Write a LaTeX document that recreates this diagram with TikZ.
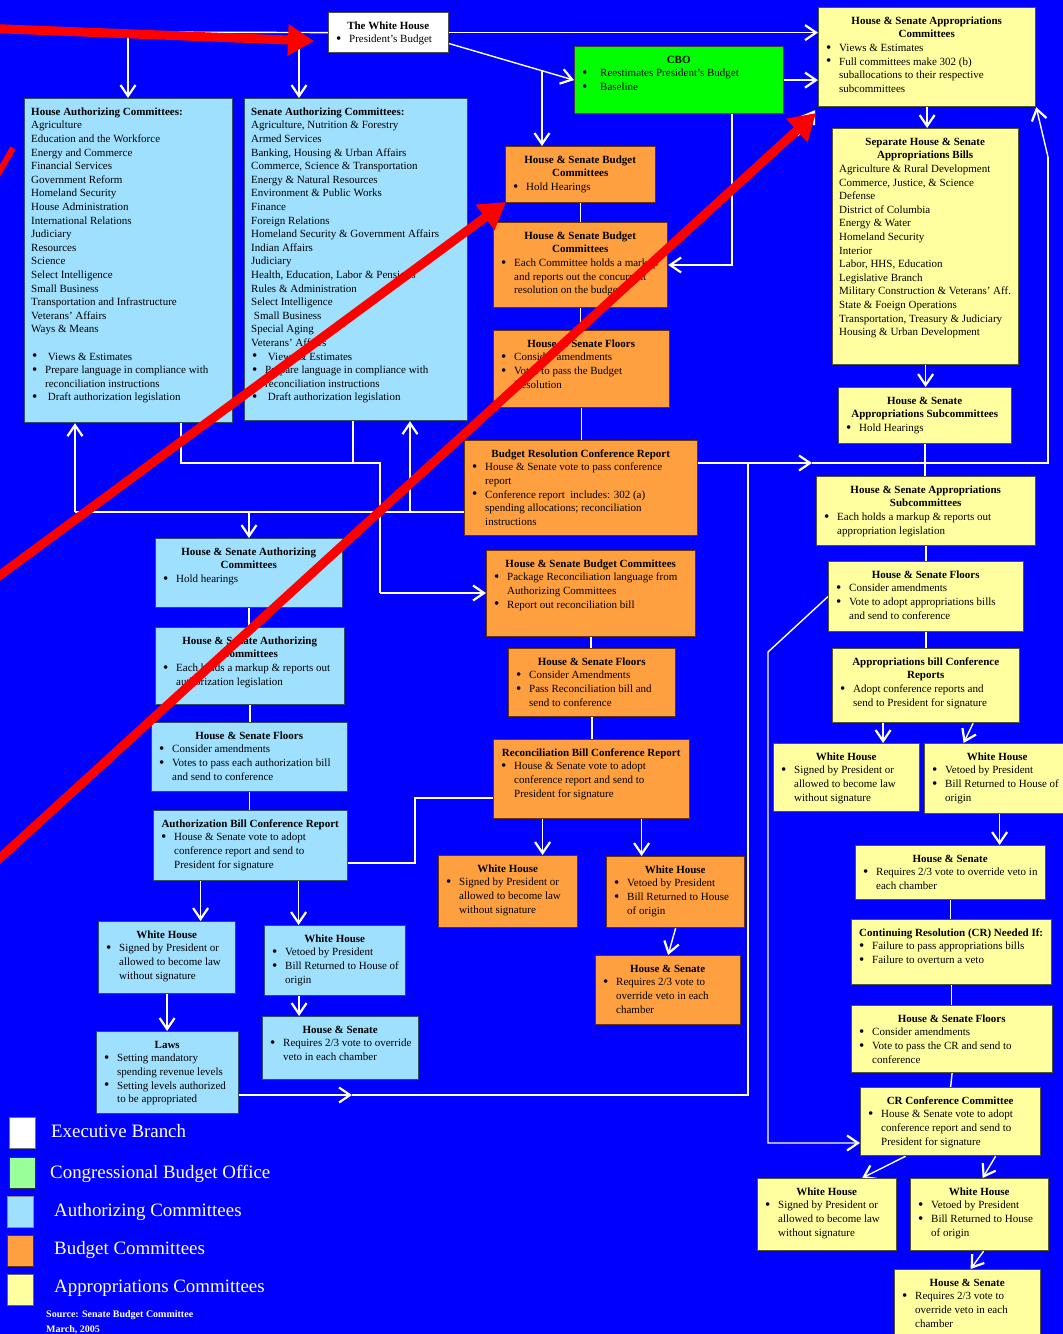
\documentclass[tikz,border=0pt]{standalone}
\usepackage{fontspec}
\setmainfont{Liberation Serif}
\usetikzlibrary{arrows.meta}
\pgfdeclarelayer{back}
\pgfdeclarelayer{lines}
\pgfsetlayers{back,lines,main}
\definecolor{bgblue}{HTML}{0000FF}
\definecolor{authc}{HTML}{A0E0FF}
\definecolor{budc}{HTML}{FFA040}
\definecolor{appc}{HTML}{FFFFA0}
\definecolor{cboc}{HTML}{00FF00}
\definecolor{leggreen}{HTML}{99FF99}
\definecolor{authb}{HTML}{2F4F5F}
\definecolor{budb}{HTML}{6B3300}
\definecolor{appb}{HTML}{55552A}

\newcommand\bul{\raisebox{-0.6pt}{\fontsize{15}{13.6}\selectfont\textbullet}}
\newcommand\ttl[1]{\par\noindent\makebox[\linewidth]{\bfseries\begin{tabular}[t]{@{}c@{}}#1\end{tabular}}\par}
\newcommand\itm[1]{\par\noindent\hbox to 14pt{\hskip1pt\bul\hss}\begin{tabular}[t]{@{}l@{}}#1\end{tabular}\par}
\newcommand\lst[1]{\par\noindent\begin{tabular}[t]{@{}l@{}}#1\end{tabular}\par}
\newcommand\bx[7]{%
  \node[#6, anchor=north west, minimum width=#4pt-#2pt, minimum height=#5pt-#3pt] (#1) at (#2,#3) {};
  \node[txt, anchor=north west] (#1t) at ([shift={(7,7.5)}]#1.north west) {\parbox[t]{\dimexpr#4pt-#2pt-14pt\relax}{\lineskip=0pt #7}};
}

\tikzset{
  txt/.style={inner sep=0pt, font=\fontsize{11}{13.6}\selectfont, text=black},
  wbox/.style={draw=black!70, line width=1.2pt, fill=white, inner sep=0pt},
  gbox/.style={draw=black!75, line width=1.2pt, fill=cboc, inner sep=0pt},
  abox/.style={draw=authb, line width=1.2pt, fill=authc, inner sep=0pt},
  bbox/.style={draw=budb, line width=1.2pt, fill=budc, inner sep=0pt},
  ybox/.style={draw=appb, line width=1.2pt, fill=appc, inner sep=0pt},
  wl/.style={draw=white, line width=1.4pt},
  wa/.style={wl, -{Straight Barb[length=11pt,width=15pt,line width=2.2pt]}},
  ra/.style={draw=red, line width=9pt, -{Triangle[length=26pt,width=30pt]}},
  leg/.style={anchor=north west, minimum width=26pt, minimum height=31pt, inner sep=0pt, line width=1.2pt},
  legt/.style={anchor=base west, inner sep=0pt, text=white, font=\fontsize{18.9}{22}\selectfont},
  src/.style={anchor=base west, inner sep=0pt, text=white, font=\bfseries\fontsize{10}{12}\selectfont},
}

\begin{document}
\begin{tikzpicture}[x=1pt,y=-1pt]
\useasboundingbox (0,0) rectangle (1063,1334);
\begin{pgfonlayer}{back}
\fill[bgblue] (0,0) rectangle (1063,1334);
\end{pgfonlayer}

% ---------- top ----------
\bx{WH}{328}{12}{448}{52}{wbox}{\ttl{The White House}\itm{President's Budget}}
\bx{CBO}{574}{46}{783}{113}{gbox}{\ttl{CBO}\itm{\hspace{5pt}Reestimates President's Budget}\itm{\hspace{5pt}Baseline}}
\bx{AP}{818}{7}{1035}{106}{ybox}{\ttl{House \& Senate Appropriations\\Committees}\itm{Views \& Estimates}\itm{Full committees make 302 (b)\\suballocations to their respective\\subcommittees}}

% ---------- authorizing lists ----------
\bx{HA}{24}{98}{232}{422}{abox}{\lst{\bfseries House Authorizing Committees:}\lst{Agriculture\\Education and the Workforce\\Energy and Commerce\\Financial Services\\Government Reform\\Homeland Security\\House Administration\\International Relations\\Judiciary\\Resources\\Science\\Select Intelligence\\Small Business\\Transportation and Infrastructure\\Veterans' Affairs\\Ways \& Means}\lst{~}\itm{\ Views \& Estimates}\itm{Prepare language in compliance with\\reconciliation instructions}\itm{\ Draft authorization legislation}}
\bx{SA}{244}{98}{467}{420}{abox}{\lst{\bfseries Senate Authorizing Committees:}\lst{Agriculture, Nutrition \& Forestry\\Armed Services\\Banking, Housing \& Urban Affairs\\Commerce, Science \& Transportation\\Energy \& Natural Resources\\Environment \& Public Works\\Finance\\Foreign Relations\\Homeland Security \& Government Affairs\\Indian Affairs\\Judiciary\\Health, Education, Labor \& Pensions\\Rules \& Administration\\Select Intelligence\\\ Small Business\\Special Aging\\Veterans' Affairs}\itm{\ Views \& Estimates}\itm{Prepare language in compliance with\\reconciliation instructions}\itm{\ Draft authorization legislation}}

% ---------- appropriations column ----------
\bx{Y2}{832}{128}{1018}{364}{ybox}{\ttl{Separate House \& Senate\\Appropriations Bills}\lst{Agriculture \& Rural Development\\Commerce, Justice, \& Science\\Defense\\District of Columbia\\Energy \& Water\\Homeland Security\\Interior\\Labor, HHS, Education\\Legislative Branch\\Military Construction \& Veterans' Aff.\\State \& Foeign Operations\\Transportation, Treasury \& Judiciary\\Housing \& Urban Development}}
\bx{Y3}{838}{387}{1011}{443}{ybox}{\ttl{House \& Senate\\Appropriations Subcommittees}\itm{Hold Hearings}}
\bx{Y4}{816}{476}{1035}{545}{ybox}{\ttl{House \& Senate Appropriations\\Subcommittees}\itm{Each holds a markup \& reports out\\appropriation legislation}}
\bx{Y5}{828}{561}{1023}{631}{ybox}{\ttl{House \& Senate Floors}\itm{Consider amendments}\itm{Vote to adopt appropriations bills\\and send to conference}}
\bx{Y6}{832}{648}{1019}{722}{ybox}{\ttl{Appropriations bill Conference\\Reports}\itm{Adopt conference reports and\\send to President for signature}}
\bx{Y7}{773}{743}{919}{811}{ybox}{\ttl{White House}\itm{Signed by President or\\allowed to become law\\without signature}}
\bx{Y8}{924}{743}{1070}{813}{ybox}{\ttl{White House}\itm{Vetoed by President}\itm{Bill Returned to House of\\origin}}
\bx{Y9}{855}{845}{1045}{899}{ybox}{\ttl{House \& Senate}\itm{Requires 2/3 vote to override veto in\\each chamber}}
\bx{Y10}{851}{919}{1051}{984}{ybox}{\ttl{Continuing Resolution (CR) Needed If:}\itm{Failure to pass appropriations bills}\itm{Failure to overturn a veto}}
\bx{Y11}{851}{1005}{1052}{1072}{ybox}{\ttl{House \& Senate Floors}\itm{Consider amendments}\itm{Vote to pass the CR and send to\\conference}}
\bx{Y12}{860}{1087}{1040}{1155}{ybox}{\ttl{CR Conference Committee}\itm{House \& Senate vote to adopt\\conference report and send to\\President for signature}}
\bx{Y13}{757}{1178}{896}{1250}{ybox}{\ttl{White House}\itm{Signed by President or\\allowed to become law\\without signature}}
\bx{Y14}{910}{1178}{1048}{1250}{ybox}{\ttl{White House}\itm{Vetoed by President}\itm{Bill Returned to House\\of origin}}
\bx{Y15}{894}{1269}{1040}{1345}{ybox}{\ttl{House \& Senate}\itm{Requires 2/3 vote to\\override veto in each\\chamber}}

% ---------- budget column ----------
\bx{B1}{505}{146}{655}{202}{bbox}{\ttl{House \& Senate Budget\\Committees}\itm{Hold Hearings}}
\bx{B2}{493}{222}{667}{307}{bbox}{\ttl{House \& Senate Budget\\Committees}\itm{Each Committee holds a markup\\and reports out the concurrent\\resolution on the budget}}
\bx{B3}{493}{330}{669}{407}{bbox}{\ttl{House \& Senate Floors}\itm{Consider amendments}\itm{Votes to pass the Budget\\Resolution}}
\bx{B4}{464}{440}{697}{535}{bbox}{\ttl{Budget Resolution Conference Report}\itm{House \& Senate vote to pass conference\\report}\itm{Conference report\ \ includes: 302 (a)\\spending allocations; reconciliation\\instructions}}
\bx{B5}{486}{550}{695}{636}{bbox}{\ttl{House \& Senate Budget Committees}\itm{Package Reconciliation language from\\Authorizing Committees}\itm{Report out reconciliation bill}}
\bx{B6}{508}{648}{675}{716}{bbox}{\ttl{House \& Senate Floors}\itm{Consider Amendments}\itm{Pass Reconciliation bill and\\send to conference}}
\bx{B7}{493}{739}{689}{818}{bbox}{\ttl{Reconciliation Bill Conference Report}\itm{House \& Senate vote to adopt\\conference report and send to\\President for signature}}
\bx{B8}{438}{855}{577}{927}{bbox}{\ttl{White House}\itm{Signed by President or\\allowed to become law\\without signature}}
\bx{B9}{606}{856}{744}{927}{bbox}{\ttl{White House}\itm{Vetoed by President}\itm{Bill Returned to House\\of origin}}
\bx{B10}{595}{955}{740}{1024}{bbox}{\ttl{House \& Senate}\itm{Requires 2/3 vote to\\override veto in each\\chamber}}

% ---------- authorizing column ----------
\bx{A1}{155}{538}{342}{607}{abox}{\ttl{House \& Senate Authorizing\\Committees}\itm{Hold hearings}}
\bx{A2}{155}{627}{344}{704}{abox}{\ttl{House \& Senate Authorizing\\Committees}\itm{Each holds a markup \& reports out\\authorization legislation}}
\bx{A3}{151}{722}{347}{791}{abox}{\ttl{House \& Senate Floors}\itm{Consider amendments}\itm{Votes to pass each authorization bill\\and send to conference}}
\bx{A4}{153}{810}{347}{880}{abox}{\ttl{Authorization Bill Conference Report}\itm{House \& Senate vote to adopt\\conference report and send to\\President for signature}}
\bx{A5}{98}{921}{235}{993}{abox}{\ttl{White House}\itm{Signed by President or\\allowed to become law\\without signature}}
\bx{A6}{264}{925}{405}{995}{abox}{\ttl{White House}\itm{Vetoed by President}\itm{Bill Returned to House of\\origin}}
\bx{A7}{262}{1016}{418}{1079}{abox}{\ttl{House \& Senate}\itm{Requires 2/3 vote to override\\veto in each chamber}}
\bx{A8}{96}{1031}{238}{1113}{abox}{\ttl{Laws}\itm{Setting mandatory\\spending revenue levels}\itm{Setting levels authorized\\to be appropriated}}

% ---------- legend ----------
\node[leg, fill=white, draw=black!55] (L1) at (9,1117) {};
\node[leg, fill=leggreen, draw=black!80] (L2) at (9,1157) {};
\node[leg, fill=authc, draw=black!45] (L3) at (7,1196) {};
\node[leg, fill=budc, draw=budb] (L4) at (7,1235) {};
\node[leg, fill=appc, draw=black!60] (L5) at (7,1274) {};
\node[legt] (T1) at (51,1137) {Executive Branch};
\node[legt] (T2) at (50,1178) {Congressional Budget Office};
\node[legt] (T3) at (54,1216) {Authorizing Committees};
\node[legt] (T4) at (54,1254) {Budget Committees};
\node[legt] (T5) at (54,1292) {Appropriations Committees};
\node[src] (S1) at (46,1317) {Source: Senate Budget Committee};
\node[src] (S2) at (46,1332) {March, 2005};

% ---------- connectors ----------
\begin{pgfonlayer}{lines}
\coordinate (tA) at (128,32);
\coordinate (tB) at (299,32);
\draw[wl] (WH.west) -- (tA);
\draw[wa] (tA) -- (tA |- HA.north);
\draw[wa] (tB) -- (tB |- SA.north);
\draw[wa] (WH.east) -- (WH.east -| AP.west);
\coordinate (c1) at (542,70.2);
\draw[wa] ([yshift=-11pt]WH.east) -- (CBO.west);
\draw[wa] (c1) -- (c1 |- B1.north);
\draw[wa] (CBO.east) -- (CBO.east -| AP.west);
\coordinate (c2) at (732,265);
\draw[wa] (CBO.south -| c2) -- (c2) -- (c2 -| B2.east);
% appropriations column
\draw[wa] (AP.south) -- (AP.south |- Y2.north);
\draw[wa] (Y2.south) -- (Y2.south |- Y3.north);
\draw[wl] (Y3.south) -- (Y3.south |- Y4.north);
\draw[wl] (Y4.south) -- (Y4.south |- Y5.north);
\draw[wl] (Y5.south) -- (Y5.south |- Y6.north);
\coordinate (y6a) at ([xshift=-43pt]Y6.south);
\draw[wa] (y6a) -- (y6a |- Y7.north);
\draw[wa] ([xshift=47pt]Y6.south) -- ([xshift=-34pt]Y8.north);
\coordinate (y8a) at ([xshift=2pt]Y8.south);
\draw[wa] (y8a) -- (y8a |- Y9.north);
\draw[wl] (Y9.south) -- (Y9.south |- Y10.north);
\draw[wl] (Y10.south) -- (Y10.south |- Y11.north);
\draw[wl] (Y11.south) -- (Y12.north);
\draw[wa] ([xshift=-45pt]Y12.south) -- ([xshift=35pt]Y13.north);
\draw[wa] ([xshift=45pt]Y12.south) -- ([xshift=3pt]Y14.north);
\draw[wa] ([xshift=4pt]Y14.south) -- ([xshift=3pt]Y15.north);
\coordinate (l1) at (768,652);
\coordinate (l2) at (768,1143);
\draw[wa] (Y5.west) -- (l1) -- (l2) -- (l2 -| Y12.west);
% budget resolution to appropriations
\coordinate (r0) at (812,463);
\coordinate (r1) at (1048,463);
\coordinate (r2) at (1048,157);
\draw[wa] (B4.east |- r0) -- (r0);
\draw[wl] (r0) -- (r1) -- (r2);
\draw[wa] (r2) -- (AP.south east);
\coordinate (q0) at (798,136);
\draw[wa] (q0) -- ([shift={(-3,3)}]AP.south west);
% laws
\coordinate (m0) at (352,1095);
\coordinate (m1) at (748,1095);
\coordinate (m2) at (748,463);
\draw[wa] (A8.east |- m0) -- (m0);
\draw[wl] (m0) -- (m1) -- (m2);
% reconciliation instructions loop
\coordinate (p0) at (75,512);
\coordinate (p1) at (410,512);
\coordinate (p2) at (249,512);
\draw[wl] (B4.west |- p0) -- (p0);
\draw[wa] (p0) -- (p0 |- HA.south);
\draw[wa] (p1) -- (p1 |- SA.south);
\draw[wa] (p2) -- (p2 |- A1.north);
% authorizing committees to budget committees
\coordinate (s0) at (181,463);
\coordinate (s1) at (353,463);
\coordinate (s2) at (380,463);
\coordinate (s3) at (380,593);
\draw[wl] (s0 |- HA.south) -- (s0) -- (s2) -- (s3);
\draw[wl] (s1 |- SA.south) -- (s1);
\draw[wa] (s3) -- (s3 -| B5.west);
% authorizing column
\draw[wl] (A1.south) -- (A1.south |- A2.north);
\draw[wl] (A2.south) -- (A2.south |- A3.north);
\draw[wl] (A3.south) -- (A3.south |- A4.north);
\coordinate (u1) at (415,863);
\coordinate (u2) at (415,798);
\draw[wl] (A4.east |- u1) -- (u1) -- (u2) -- (u2 -| B7.west);
\coordinate (a4l) at ([xshift=-50pt]A4.south);
\coordinate (a4r) at ([xshift=48pt]A4.south);
\draw[wa] (a4l) -- (a4l |- A5.north);
\draw[wa] (a4r) -- (a4r |- A6.north);
\draw[wa] (A5.south) -- (A5.south |- A8.north);
\coordinate (a6) at ([xshift=-36pt]A6.south);
\draw[wa] (a6) -- (a6 |- A7.north);
% budget column
\draw[wl] (B1.south) -- (B1.south |- B2.north);
\draw[wl] (B2.south) -- (B2.south |- B3.north);
\draw[wl] (B3.south) -- (B3.south |- B4.north);
\draw[wl] (B5.south) -- (B5.south |- B6.north);
\draw[wl] (B6.south) -- (B6.south |- B7.north);
\coordinate (b7l) at ([xshift=-49pt]B7.south);
\coordinate (b7r) at ([xshift=50pt]B7.south);
\draw[wa] (b7l) -- (b7l |- B8.north);
\draw[wa] (b7r) -- (b7r |- B9.north);
\draw[wa] (B9.south) -- (B10.north);
\end{pgfonlayer}

% ---------- red overlay arrows ----------
\coordinate (R1s) at (-20,28);
\coordinate (R1e) at (314,41);
\coordinate (R2s) at (-12,584);
\coordinate (R2e) at (506,202);
\coordinate (R3s) at (-12,869);
\coordinate (R3e) at (816,113);
\coordinate (R4s) at (-3,176);
\coordinate (R4e) at (13,148);
\draw[ra] (R1s) -- (R1e);
\draw[ra] (R2s) -- (R2e);
\draw[ra] (R3s) -- (R3e);
\draw[draw=red, line width=6pt] (R4s) -- (R4e);
\end{tikzpicture}
\end{document}
